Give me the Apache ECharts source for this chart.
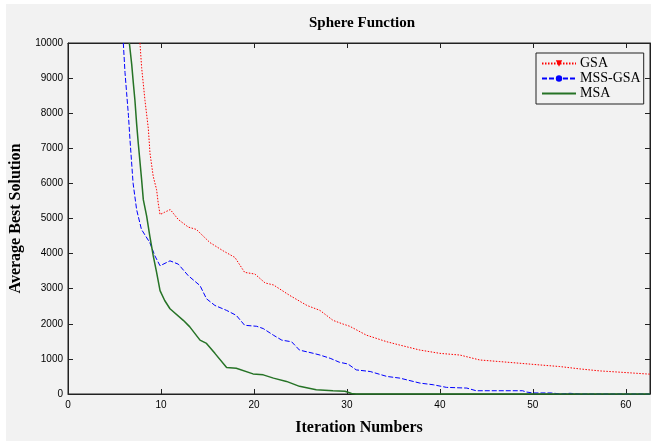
<!DOCTYPE html>
<html>
<head>
<meta charset="utf-8">
<script src="https://cdn.jsdelivr.net/npm/echarts@6/dist/echarts.min.js"></script>
<style>html,body{margin:0;padding:0;background:#fff}#c{width:651px;height:441px}</style>
</head>
<body>
<div id="c"></div>
<script>
// ---- data ----
var gsaIter = [7.74,7.92,8.28,8.64,8.82,9.17,9.53,9.7,9.9,10.4,11.0,11.86,12.94,13.8,15.27,16.7,17.96,19.0,20.1,21.2,22.1,23.87,25.7,27.1,28.5,29.5,30.3,32.1,34.3,35.7,37.85,40.0,42.15,44.3,46.45,48.6,50.75,52.9,55.05,57.2,59.4,62.6];
var gsaVal  = [10000,9303,8362,7562,6856,6195,5819,5443,5113,5179,5254,4972,4755,4689,4313,4077,3889,3465,3418,3164,3107,2805,2523,2382,2099,2000,1930,1676,1488,1393,1252,1158,1110,969,923,876,828,782,715,658,621,565];

var mssIter = [5.95,6.13,6.3,6.5,6.67,7.0,7.38,7.9,8.8,9.35,9.9,10.97,11.86,12.94,14.2,14.9,15.8,17.06,18.1,19.0,20.3,21.0,22.1,23.0,24.05,24.9,26.4,27.1,28.2,29.2,30.1,31.0,32.5,34.3,35.7,37.85,39.3,40.7,42.9,43.9,48.9,49.3,50,52,53,54,55,62.6];
var mssVal  = [10000,9161,8596,7938,7232,6008,5254,4689,4313,3935,3653,3794,3700,3370,3088,2712,2523,2382,2240,1958,1929,1864,1675,1534,1488,1251,1158,1110,1017,904,856,687,641,500,452,311,263,189,169,93,93,56,30,30,0,20,0,0];

var msaIter = [6.6,6.85,7.02,7.2,7.38,7.56,7.74,7.92,8.1,8.46,8.8,9.17,9.53,9.9,10.4,10.97,12.4,13.1,14.2,14.9,15.8,17.06,18.1,19.9,21.0,22.1,23.5,24.9,26.7,28.5,29.8,30.5,31,62.6];
var msaVal  = [10000,9398,8879,8362,7703,7138,6620,6102,5537,5065,4500,3935,3465,2946,2664,2429,2099,1912,1534,1441,1158,754,734,573,545,452,359,218,121,93,80,15,0,0];

var seriesNames = ['GSA','MSS-GSA','MSA'];
var titleText = 'Sphere Function';
var xName = 'Iteration Numbers';
var yName = 'Average Best Solution';

function zip(a,b){return a.map(function(v,i){return [v,b[i]];});}

var chart = echarts.init(document.getElementById('c'), null, {renderer:'canvas'});
var serif = '"Liberation Serif","Times New Roman",serif';
var sans = '"Liberation Sans",Arial,sans-serif';
var axisCol = '#222';
var bg = '#f2f2f2';
function plain(v){return String(v);}

var xBase = {type:'value', min:0, max:62.6, interval:10,
  axisLine:{show:true,onZero:false,lineStyle:{color:axisCol,width:1}},
  axisTick:{show:true,inside:true,length:5,lineStyle:{color:axisCol}},
  splitLine:{show:false}};
var yBase = {type:'value', min:0, max:10000, interval:1000,
  axisLine:{show:true,onZero:false,lineStyle:{color:axisCol,width:1}},
  axisTick:{show:true,inside:true,length:5,lineStyle:{color:axisCol}},
  splitLine:{show:false}};

chart.setOption({
  backgroundColor:'#fff',
  animation:false,
  graphic:[{type:'rect', z:-100, silent:true, shape:{x:6,y:4,width:645,height:437}, style:{fill:bg}}],
  title:{text:titleText, left:357, top:11, textAlign:'center',
    textStyle:{fontFamily:serif, fontWeight:'bold', fontSize:15, color:'#000'}},
  grid:{left:68, right:1, top:43, bottom:45, show:true, backgroundColor:bg, borderColor:axisCol, borderWidth:1},
  legend:{orient:'vertical', left:536, top:53,
    data:[{name:seriesNames[0]},{name:seriesNames[1]},{name:seriesNames[2], itemStyle:{color:'rgba(0,0,0,0)', borderWidth:0}}],
    backgroundColor:bg, borderColor:axisCol, borderWidth:1, borderRadius:0,
    padding:[3,3,3,5], itemWidth:34, itemHeight:8, itemGap:0,
    textStyle:{fontFamily:serif, fontSize:14, color:'#000', lineHeight:15, padding:[0,0,0,-1]}},
  xAxis:[
    Object.assign({}, xBase, {position:'bottom', name:xName, nameLocation:'middle', nameGap:26,
      nameTextStyle:{fontFamily:serif, fontWeight:'bold', fontSize:16, color:'#000'},
      axisLabel:{show:true, margin:6, fontFamily:sans, fontSize:10, color:'#000', showMaxLabel:false, formatter:plain}}),
    Object.assign({}, xBase, {position:'top', axisLabel:{show:false}})
  ],
  yAxis:[
    Object.assign({}, yBase, {position:'left', name:yName, nameLocation:'middle', nameGap:40, nameRotate:90,
      nameTextStyle:{fontFamily:serif, fontWeight:'bold', fontSize:16, color:'#000'},
      axisLabel:{show:true, margin:5, fontFamily:sans, fontSize:10, color:'#000', formatter:plain}}),
    Object.assign({}, yBase, {position:'right', axisLabel:{show:false}})
  ],
  series:[
    {name:seriesNames[0], type:'line', data:zip(gsaIter,gsaVal), xAxisIndex:0, yAxisIndex:0,
      symbol:'triangle', symbolRotate:180, symbolSize:7, showSymbol:false, clip:false,
      color:'#ff0000', lineStyle:{color:'#ff0000', width:1, type:[1.5,1.5]}, z:3},
    {name:seriesNames[1], type:'line', data:zip(mssIter,mssVal), xAxisIndex:0, yAxisIndex:0,
      symbol:'circle', symbolSize:5, showSymbol:false, clip:false,
      color:'#0000ff', lineStyle:{color:'#0000ff', width:1, type:[5,2]}, z:4},
    {name:seriesNames[2], type:'line', data:zip(msaIter,msaVal), xAxisIndex:0, yAxisIndex:0,
      symbol:'circle', showSymbol:false, clip:false,
      color:'#267326', lineStyle:{color:'#267326', width:1.5, type:'solid'}, z:5}
  ]
});
</script>
</body>
</html>
